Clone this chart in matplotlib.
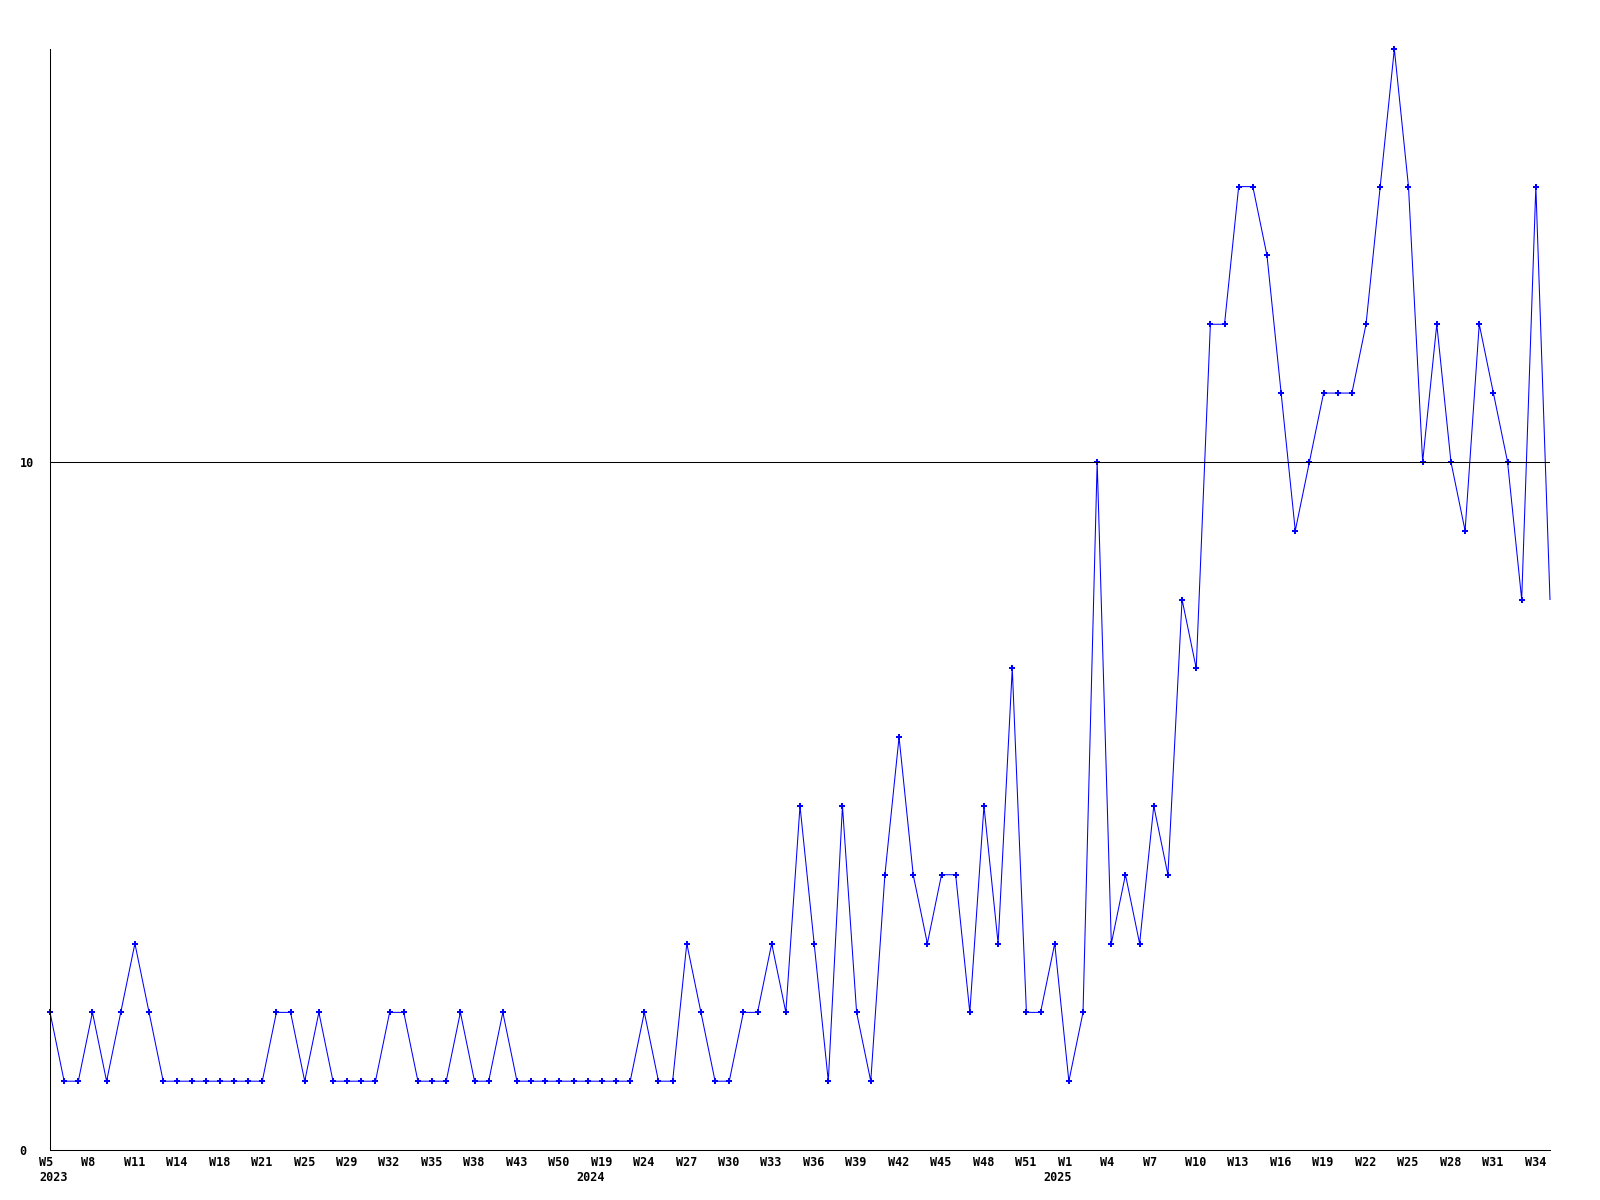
import matplotlib
matplotlib.use("Agg")
import matplotlib.pyplot as plt
import matplotlib.transforms as mtransforms

# weekly counts, one point per week that had data
values = [
    2, 1, 1, 2, 1, 2, 3, 2, 1, 1,
    1, 1, 1, 1, 1, 1, 2, 2, 1, 2,
    1, 1, 1, 1, 2, 2, 1, 1, 1, 2,
    1, 1, 2, 1, 1, 1, 1, 1, 1, 1,
    1, 1, 2, 1, 1, 3, 2, 1, 1, 2,
    2, 3, 2, 5, 3, 1, 5, 2, 1, 4,
    6, 4, 3, 4, 4, 2, 5, 3, 7, 2,
    2, 3, 1, 2, 10, 3, 4, 3, 5, 4,
    8, 7, 12, 12, 14, 14, 13, 11, 9, 10,
    11, 11, 11, 12, 14, 16, 14, 10, 12, 10,
    9, 12, 11, 10, 8, 14, 8,
]

# every third point is labelled
tick_weeks = [
    "W5", "W8", "W11", "W14", "W18", "W21", "W25", "W29", "W32", "W35", "W38", "W43", "W50",
    "W19", "W24", "W27", "W30", "W33", "W36", "W39", "W42", "W45", "W48", "W51",
    "W1", "W4", "W7", "W10", "W13", "W16", "W19", "W22", "W25", "W28", "W31", "W34",
]
tick_years = [2023] * 13 + [2024] * 11 + [2025] * 12

font = dict(family="DejaVu Sans Mono", weight="bold", size=8.5)

fig = plt.figure(figsize=(16, 12), dpi=100)
ax = fig.add_axes([50 / 1600, 50 / 1200, 1500 / 1600, 1101 / 1200])

x = list(range(len(values)))
# last (current, incomplete) week has no marker
ax.plot(x, values, color="#0000ff", lw=0.75, marker="P", ms=4.5, mew=0,
        markevery=slice(0, len(values) - 1), clip_on=False)
ax.axhline(10, color="black", lw=0.75)

ax.set_xlim(0, len(values) - 1)
ax.set_ylim(0, 16)
for s in ["top", "right"]:
    ax.spines[s].set_visible(False)
for s in ["left", "bottom"]:
    ax.spines[s].set_linewidth(0.75)

ax.set_yticks([0, 10])
ax.set_yticklabels(["0", "10"], fontdict=font)
ax.tick_params(axis="y", length=0, pad=22)
for lbl in ax.get_yticklabels():
    lbl.set_horizontalalignment("left")

tick_pos = list(range(0, len(values), 3))
ax.set_xticks(tick_pos)
ax.set_xticklabels(tick_weeks, fontdict=font)
ax.tick_params(axis="x", length=0, pad=4)
shift = mtransforms.ScaledTranslation(-11.2 / 100, 0, fig.dpi_scale_trans)
for lbl in ax.get_xticklabels():
    lbl.set_horizontalalignment("left")
    lbl.set_transform(lbl.get_transform() + shift)

# year under the first labelled week of each year
prev = None
for p, yr in zip(tick_pos, tick_years):
    if yr != prev:
        dx = -8 if prev is None else -18.4
        ax.annotate(str(yr), xy=(p, 0), xycoords=("data", "axes fraction"),
                    xytext=(dx, -15), textcoords="offset points",
                    ha="left", va="top", **font)
    prev = yr

fig.savefig("out.png", dpi=100, facecolor="white")
